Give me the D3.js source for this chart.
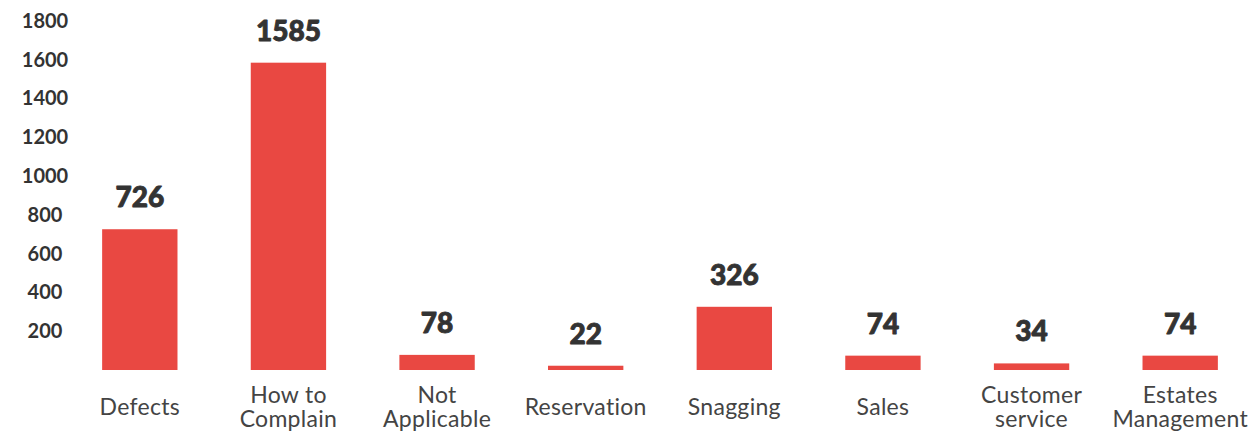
<!DOCTYPE html>
<html>
<head>
<meta charset="utf-8">
<script src="https://cdn.jsdelivr.net/npm/d3@7"></script>
<style>
  html, body { margin: 0; padding: 0; background: #fff; }
  svg { display: block; }
</style>
</head>
<body>
<svg id="chart" width="1258" height="435"></svg>
<script>
// Complaint counts by category
const categories = [
  ["Defects"],
  ["How to", "Complain"],
  ["Not", "Applicable"],
  ["Reservation"],
  ["Snagging"],
  ["Sales"],
  ["Customer", "service"],
  ["Estates", "Management"]
];
const counts = [726, 1585, 78, 22, 326, 74, 34, 74];
const yTicks = [200, 400, 600, 800, 1000, 1200, 1400, 1600, 1800];

const svg = d3.select("#chart");

const keys = categories.map((c, i) => i);

const x = d3.scaleBand()
  .domain(keys)
  .range([65.5, 1254.5])
  .paddingInner(0.493)
  .paddingOuter(0.2465);

const y = d3.scaleLinear()
  .domain([0, 1800])
  .range([370, 21]);

// Y axis: centred bold labels, no line or ticks
const yAxis = svg.append("g")
  .attr("transform", "translate(45,0)")
  .call(d3.axisLeft(y).tickValues(yTicks).tickSize(0).tickPadding(0).tickFormat(d3.format("d")));
yAxis.select(".domain").remove();
yAxis.selectAll("text")
  .attr("x", 0)
  .attr("text-anchor", "middle")
  .attr("font-family", "Lato, sans-serif")
  .attr("font-weight", 700)
  .attr("font-size", 20)
  .attr("fill", "#333333");

// Bars
svg.append("g").selectAll("rect")
  .data(counts)
  .join("rect")
  .attr("x", (d, i) => x(i))
  .attr("width", x.bandwidth())
  .attr("y", d => y(d))
  .attr("height", d => y(0) - y(d))
  .attr("fill", "#E94842");

// Value labels above bars (heavy weight)
svg.append("g").selectAll("text")
  .data(counts)
  .join("text")
  .attr("x", (d, i) => x(i) + x.bandwidth() / 2)
  .attr("y", d => y(d) - 22)
  .attr("text-anchor", "middle")
  .attr("font-family", "Lato, sans-serif")
  .attr("font-weight", 900)
  .attr("font-size", 28)
  .attr("fill", "#333333")
  .attr("stroke", "#333333")
  .attr("stroke-width", 0.9)
  .attr("stroke-linejoin", "round")
  .text(d => d);

// Category labels, vertically centred under each bar
const lineH = 24;
const labelMid = 407;
const cat = svg.append("g").selectAll("text")
  .data(categories)
  .join("text")
  .attr("text-anchor", "middle")
  .attr("font-family", "Lato, sans-serif")
  .attr("font-size", 23)
  .attr("letter-spacing", 0.3)
  .attr("fill", "#444444");
cat.each(function(lines, i) {
  const t = d3.select(this);
  const cx = x(i) + x.bandwidth() / 2;
  const top = labelMid - (lines.length - 1) * lineH / 2;
  lines.forEach((ln, j) => {
    t.append("tspan")
      .attr("x", cx)
      .attr("y", top + j * lineH)
      .attr("dy", "0.35em")
      .text(ln);
  });
});
</script>
</body>
</html>
